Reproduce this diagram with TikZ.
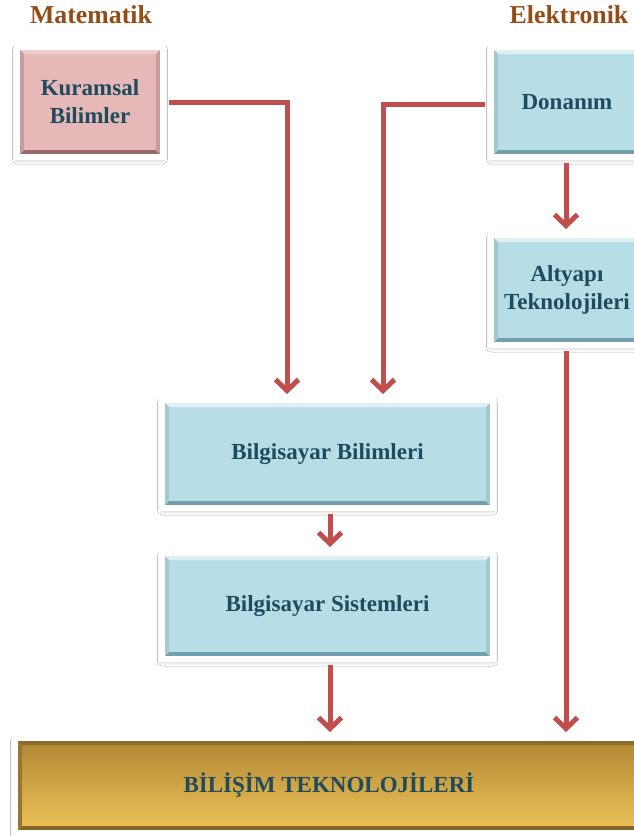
\documentclass[tikz,border=0pt]{standalone}
\usepackage{fontspec}
\setmainfont{Liberation Serif}
\usetikzlibrary{arrows.meta,shadows.blur}
\definecolor{txt}{RGB}{31,75,92}
\definecolor{ttl}{RGB}{148,76,22}
\definecolor{arr}{RGB}{192,78,76}
\definecolor{pinkf}{RGB}{230,185,184}
\definecolor{bluef}{RGB}{183,221,231}
\definecolor{goldt}{RGB}{176,134,52}
\definecolor{goldb}{RGB}{240,196,88}
\definecolor{bluebot}{RGB}{112,158,170}
\definecolor{pinkbot}{RGB}{150,106,106}
\definecolor{goldbot}{RGB}{138,100,36}
\tikzset{
  bevel/.style n args={3}{path picture={
    \coordinate (sw) at ([shift={(3pt,3pt)}]path picture bounding box.south west);
    \coordinate (ne) at ([shift={(-3pt,-3pt)}]path picture bounding box.north east);
    \coordinate (nw) at (sw|-ne);
    \coordinate (se) at (ne|-sw);
    \fill[#1] (nw)--(ne)--([shift={(-4pt,-4pt)}]ne)--([shift={(4pt,-4pt)}]nw)--cycle;
    \fill[#3] (sw)--(se)--([shift={(-4pt,4pt)}]se)--([shift={(4pt,4pt)}]sw)--cycle;
    \fill[#2] (sw)--(nw)--([shift={(4pt,-4pt)}]nw)--([shift={(4pt,4pt)}]sw)--cycle;
    \fill[#2] (se)--(ne)--([shift={(-4pt,-4pt)}]ne)--([shift={(-4pt,4pt)}]se)--cycle;
  }},
  framed/.style={draw=white, line width=6pt, inner sep=0pt,
    blur shadow={shadow xshift=0pt, shadow yshift=-2.5pt, shadow blur radius=4.5pt,
      shadow blur steps=8, shadow opacity=28},
    text=txt, align=center,
    font=\fontsize{23}{28}\selectfont\bfseries},
  pinkbox/.style={framed, fill=pinkf, bevel={pinkf!70!white}{pinkf!85!black}{pinkbot}},
  bluebox/.style={framed, fill=bluef, bevel={bluef!45!white}{bluef!90!black}{bluebot}},
  goldbox/.style={framed, top color=goldt, bottom color=goldb,
    bevel={goldt!80!black}{goldt!88!black}{goldbot}},
  title/.style={text=ttl, font=\fontsize{25.8}{30}\selectfont\bfseries},
  link/.style={draw=arr, line width=5pt, shorten <=3pt, shorten >=3pt,
    -{Straight Barb[length=11pt,width=23pt,line width=5pt]}}
}
\begin{document}
\begin{tikzpicture}[x=1pt,y=-1pt]
\useasboundingbox (0,0) rectangle (634,836);
\fill[white] (0,0) rectangle (634,836);

% column headings
\node[title] (mat) at (91,15) {Matematik};
\node[title] (ele) at (569,15) {Elektronik};

% boxes
\node[pinkbox, minimum width=146pt, minimum height=110pt] (kb) at (90,102) {Kuramsal\\Bilimler};
\node[bluebox, minimum width=152pt, minimum height=110pt] (don) at (567,102) {Donanım};
\node[bluebox, minimum width=152pt, minimum height=110pt] (alt) at (567,290) {Altyapı\\Teknolojileri};
\node[bluebox, minimum width=331pt, minimum height=108pt] (bb) at (327.5,454) {Bilgisayar Bilimleri};
\node[bluebox, minimum width=331pt, minimum height=106pt] (bs) at (327.5,606) {Bilgisayar Sistemleri};
\node[goldbox, minimum width=628pt, minimum height=95pt] (bt) at (329,785.5) {BİLİŞİM TEKNOLOJİLERİ};

% connectors
\draw[link] (kb.east) -| ([xshift=-40.5pt]bb.north);
\draw[link] ([yshift=-2pt]don.west) -| ([xshift=55.5pt]bb.north);
\draw[link] ([xshift=-1pt]don.south) -- ([xshift=-1pt]alt.north);
\draw[link] ([xshift=-1pt]alt.south) -- ([xshift=-1pt]alt.south |- bt.north);
\draw[link] ([xshift=2.5pt]bb.south) -- ([xshift=2.5pt]bs.north);
\draw[link] ([xshift=2.5pt]bs.south) -- ([xshift=2.5pt]bs.south |- bt.north);
\end{tikzpicture}
\end{document}
